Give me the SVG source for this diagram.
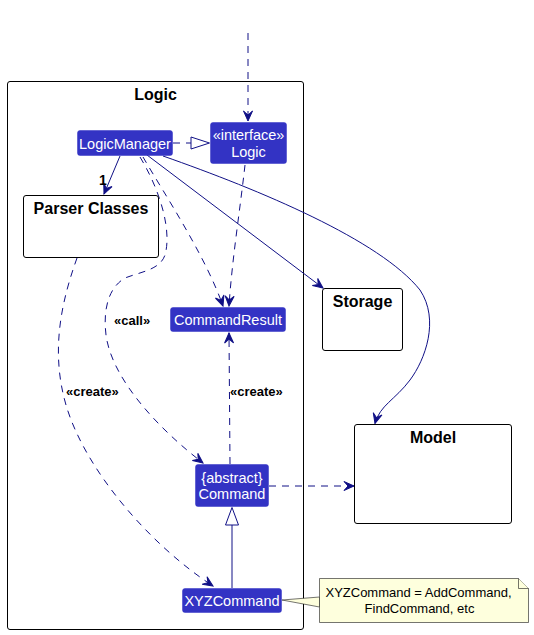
<svg xmlns="http://www.w3.org/2000/svg" width="534" height="635" viewBox="0 0 534 635">
<style>
.pkg{fill:#FFFFFF;stroke:#000000;stroke-width:1}
.node{fill:#3333C4;stroke:#3333C4;stroke-width:0.5}
.ntext{font-family:"Liberation Sans",Arial,sans-serif;font-size:14.5px;fill:#FFFFFF;text-anchor:middle}
.title{font-family:"Liberation Sans",Arial,sans-serif;font-size:16px;font-weight:bold;fill:#000000;text-anchor:middle}
.lbl{font-family:"Liberation Sans",Arial,sans-serif;font-size:13px;font-weight:bold;fill:#000000}
.edge{fill:none;stroke:#101086;stroke-width:1}
.dash{stroke-dasharray:7,6}
.hollow{fill:#FFFFFF;stroke:#101086;stroke-width:1}
.note{fill:#FEFFDD;stroke:#181818;stroke-width:0.6}
.notetext{font-family:"Liberation Sans",Arial,sans-serif;font-size:13px;fill:#000000;text-anchor:middle}
</style>
<defs>
<marker id="arr" viewBox="-11 -6 13 12" refX="0" refY="0" markerWidth="13" markerHeight="12" markerUnits="userSpaceOnUse" orient="auto">
<path d="M0,0 L-10,-4.5 L-6,0 L-10,4.5 Z" fill="#101086" stroke="#101086" stroke-width="1" stroke-linejoin="miter"/>
</marker>
</defs>

<g id="package-logic">
<rect class="pkg" x="7.5" y="81.5" width="296" height="548" rx="2.5"/>
<text class="title" x="155.5" y="100">Logic</text>
</g>

<g id="connectors">
<path class="edge dash" d="M248,33 L248,121" marker-end="url(#arr)"/>
<path class="edge dash" d="M173,143 L191,143"/>
<polygon class="hollow" points="191,137 209.5,143 191,149"/>
<path class="edge" d="M120,156 L104,194" marker-end="url(#arr)"/>
<path class="edge dash" d="M143,157 C165,195 205,255 223,306" marker-end="url(#arr)"/>
<path class="edge dash" d="M245,165 C240,210 232,260 229,306" marker-end="url(#arr)"/>
<path class="edge dash" d="M140,157 C160,190 172,230 165,255 C160,270 140,272 125,278 C108,288 103,310 106,335 C112,380 160,430 203,463" marker-end="url(#arr)"/>
<path class="edge dash" d="M77,258 C62,300 50,350 66,405 C85,470 150,545 213,586" marker-end="url(#arr)"/>
<path class="edge" d="M147,155 L323,288" marker-end="url(#arr)"/>
<path class="edge" d="M163,156 C260,190 380,240 420,290 C440,320 425,360 410,380 C395,400 380,405 375,423.5" marker-end="url(#arr)"/>
<path class="edge dash" d="M230,464 L229,333" marker-end="url(#arr)"/>
<path class="edge dash" d="M269,486 L354,486" marker-end="url(#arr)"/>
<path class="edge" d="M232,525 L232,588"/>
<polygon class="hollow" points="232,507.5 238.5,525 225.5,525"/>
<polygon class="note" points="282,600 319.5,597 319.5,607"/>
<text class="lbl" x="99" y="185" style="font-size:14px">1</text>
<text class="lbl" x="114" y="324.5">«call»</text>
<text class="lbl" x="66" y="395.5">«create»</text>
<text class="lbl" x="230" y="396">«create»</text>
</g>

<g id="node-logicmanager">
<rect class="node" x="77.5" y="130.5" width="95" height="25" rx="2.5"/>
<text class="ntext" x="125" y="148.5">LogicManager</text>
</g>

<g id="node-logic">
<rect class="node" x="210.5" y="122.5" width="76" height="41" rx="2.5"/>
<text class="ntext" x="248.5" y="140">«interface»</text>
<text class="ntext" x="248.5" y="156.5">Logic</text>
</g>

<g id="node-parser">
<rect class="pkg" x="23.5" y="195.5" width="135" height="62" rx="2.5"/>
<text class="title" x="91" y="214">Parser Classes</text>
</g>

<g id="node-commandresult">
<rect class="node" x="170.5" y="307.5" width="115" height="24" rx="2.5"/>
<text class="ntext" x="228" y="325">CommandResult</text>
</g>

<g id="node-storage">
<rect class="pkg" x="322.5" y="288.5" width="80" height="62" rx="2.5"/>
<text class="title" x="362.5" y="307">Storage</text>
</g>

<g id="node-model">
<rect class="pkg" x="354.5" y="424.5" width="157" height="99" rx="2.5"/>
<text class="title" x="433" y="443">Model</text>
</g>

<g id="node-command">
<rect class="node" x="195.5" y="464.5" width="73" height="42" rx="2.5"/>
<text class="ntext" x="232" y="482.5">{abstract}</text>
<text class="ntext" x="232" y="499">Command</text>
</g>

<g id="node-xyzcommand">
<rect class="node" x="182.5" y="588.5" width="99" height="24" rx="2.5"/>
<text class="ntext" x="232" y="606">XYZCommand</text>
</g>

<g id="note-xyz">
<path class="note" d="M319.5,578.5 L518.5,578.5 L528.5,588.5 L528.5,622.5 L319.5,622.5 Z"/>
<path class="note" d="M518.5,578.5 L518.5,588.5 L528.5,588.5"/>
<text class="notetext" x="418.5" y="596.5">XYZCommand = AddCommand,</text>
<text class="notetext" x="419.5" y="613">FindCommand, etc</text>
</g>
</svg>
